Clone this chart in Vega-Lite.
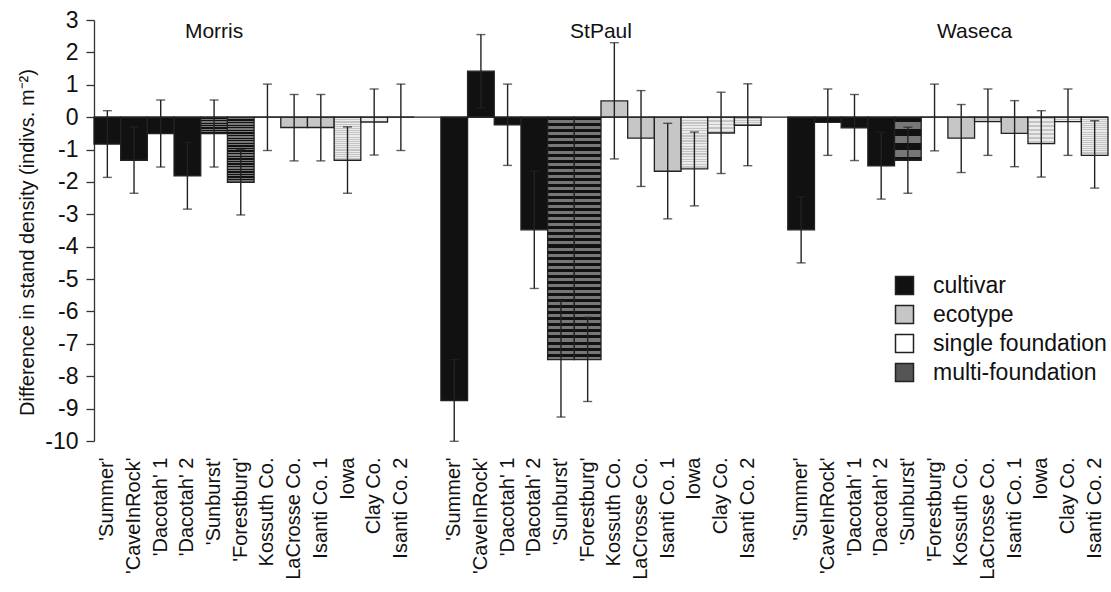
{
  "$schema": "https://vega.github.io/schema/vega-lite/v6.json",
  "width": 1014,
  "height": 421,
  "autosize": {"type": "none"},
  "padding": {"left": 94, "top": 20, "right": 3, "bottom": 151},
  "background": "white",
  "config": {
    "font": "Liberation Sans",
    "view": {"stroke": null},
    "axis": {"grid": false}
  },
  "datasets": {
    "bars": [
      {"site": "Morris", "name": "'Summer'", "type": "cultivar", "value": -0.83, "lo": -1.86, "hi": 0.2},
      {"site": "Morris", "name": "'CaveInRock'", "type": "cultivar", "value": -1.33, "lo": -2.35, "hi": -0.31},
      {"site": "Morris", "name": "'Dacotah' 1", "type": "cultivar", "value": -0.51, "lo": -1.54, "hi": 0.53},
      {"site": "Morris", "name": "'Dacotah' 2", "type": "cultivar", "value": -1.81, "lo": -2.84, "hi": -0.78},
      {"site": "Morris", "name": "'Sunburst'", "type": "multi-foundation", "value": -0.51, "lo": -1.54, "hi": 0.53},
      {"site": "Morris", "name": "'Forestburg'", "type": "multi-foundation", "value": -2.01, "lo": -3.02, "hi": -1.0},
      {"site": "Morris", "name": "Kossuth Co.", "type": "ecotype", "value": 0, "lo": -1.03, "hi": 1.02},
      {"site": "Morris", "name": "LaCrosse Co.", "type": "ecotype", "value": -0.32, "lo": -1.35, "hi": 0.7},
      {"site": "Morris", "name": "Isanti Co. 1", "type": "ecotype", "value": -0.32, "lo": -1.35, "hi": 0.7},
      {"site": "Morris", "name": "Iowa", "type": "single foundation", "value": -1.33, "lo": -2.35, "hi": -0.3},
      {"site": "Morris", "name": "Clay Co.", "type": "single foundation", "value": -0.15, "lo": -1.17, "hi": 0.87},
      {"site": "Morris", "name": "Isanti Co. 2", "type": "single foundation", "value": 0, "lo": -1.03, "hi": 1.02},
      {"site": "StPaul", "name": "'Summer'", "type": "cultivar", "value": -8.75, "lo": -10.01, "hi": -7.49},
      {"site": "StPaul", "name": "'CaveInRock'", "type": "cultivar", "value": 1.42, "lo": 0.29, "hi": 2.55},
      {"site": "StPaul", "name": "'Dacotah' 1", "type": "cultivar", "value": -0.24, "lo": -1.49, "hi": 1.02},
      {"site": "StPaul", "name": "'Dacotah' 2", "type": "cultivar", "value": -3.48, "lo": -5.29, "hi": -1.67},
      {"site": "StPaul", "name": "'Sunburst'", "type": "multi-foundation", "value": -7.49, "lo": -9.26, "hi": -5.67},
      {"site": "StPaul", "name": "'Forestburg'", "type": "multi-foundation", "value": -7.49, "lo": -8.78, "hi": -6.18},
      {"site": "StPaul", "name": "Kossuth Co.", "type": "ecotype", "value": 0.5, "lo": -1.29, "hi": 2.3},
      {"site": "StPaul", "name": "LaCrosse Co.", "type": "ecotype", "value": -0.65, "lo": -2.14, "hi": 0.82},
      {"site": "StPaul", "name": "Isanti Co. 1", "type": "ecotype", "value": -1.67, "lo": -3.14, "hi": -0.19},
      {"site": "StPaul", "name": "Iowa", "type": "single foundation", "value": -1.6, "lo": -2.74, "hi": -0.46},
      {"site": "StPaul", "name": "Clay Co.", "type": "single foundation", "value": -0.49, "lo": -1.74, "hi": 0.77},
      {"site": "StPaul", "name": "Isanti Co. 2", "type": "single foundation", "value": -0.25, "lo": -1.5, "hi": 1.03},
      {"site": "Waseca", "name": "'Summer'", "type": "cultivar", "value": -3.48, "lo": -4.5, "hi": -2.46},
      {"site": "Waseca", "name": "'CaveInRock'", "type": "cultivar", "value": -0.16, "lo": -1.18, "hi": 0.87},
      {"site": "Waseca", "name": "'Dacotah' 1", "type": "cultivar", "value": -0.33, "lo": -1.34, "hi": 0.7},
      {"site": "Waseca", "name": "'Dacotah' 2", "type": "cultivar", "value": -1.5, "lo": -2.53, "hi": -0.47},
      {"site": "Waseca", "name": "'Sunburst'", "type": "multi-foundation", "value": -1.33, "lo": -2.35, "hi": -0.31},
      {"site": "Waseca", "name": "'Forestburg'", "type": "multi-foundation", "value": 0, "lo": -1.04, "hi": 1.02},
      {"site": "Waseca", "name": "Kossuth Co.", "type": "ecotype", "value": -0.65, "lo": -1.71, "hi": 0.39},
      {"site": "Waseca", "name": "LaCrosse Co.", "type": "ecotype", "value": -0.14, "lo": -1.18, "hi": 0.87},
      {"site": "Waseca", "name": "Isanti Co. 1", "type": "ecotype", "value": -0.5, "lo": -1.53, "hi": 0.51},
      {"site": "Waseca", "name": "Iowa", "type": "single foundation", "value": -0.82, "lo": -1.85, "hi": 0.2},
      {"site": "Waseca", "name": "Clay Co.", "type": "single foundation", "value": -0.14, "lo": -1.18, "hi": 0.87},
      {"site": "Waseca", "name": "Isanti Co. 2", "type": "single foundation", "value": -1.18, "lo": -2.19, "hi": -0.11}
    ],
    "sites": [
      {"site": "Morris", "at": "Morris|'Sunburst'"},
      {"site": "StPaul", "at": "StPaul|Kossuth Co."},
      {"site": "Waseca", "at": "Waseca|LaCrosse Co."}
    ]
  },
  "data": {"name": "bars"},
  "transform": [{"calculate": "datum.site + '|' + datum.name", "as": "key"}],
  "layer": [
    {
      "mark": {"type": "bar", "stroke": "#222", "strokeWidth": 1.3},
      "encoding": {
        "x": {
          "field": "key",
          "type": "nominal",
          "sort": null,
          "scale": {
            "type": "band",
            "paddingInner": 0,
            "paddingOuter": 0,
            "domain": [
              "Morris|'Summer'", "Morris|'CaveInRock'", "Morris|'Dacotah' 1", "Morris|'Dacotah' 2", "Morris|'Sunburst'", "Morris|'Forestburg'",
              "Morris|Kossuth Co.", "Morris|LaCrosse Co.", "Morris|Isanti Co. 1", "Morris|Iowa", "Morris|Clay Co.", "Morris|Isanti Co. 2",
              "gap1",
              "StPaul|'Summer'", "StPaul|'CaveInRock'", "StPaul|'Dacotah' 1", "StPaul|'Dacotah' 2", "StPaul|'Sunburst'", "StPaul|'Forestburg'",
              "StPaul|Kossuth Co.", "StPaul|LaCrosse Co.", "StPaul|Isanti Co. 1", "StPaul|Iowa", "StPaul|Clay Co.", "StPaul|Isanti Co. 2",
              "gap2",
              "Waseca|'Summer'", "Waseca|'CaveInRock'", "Waseca|'Dacotah' 1", "Waseca|'Dacotah' 2", "Waseca|'Sunburst'", "Waseca|'Forestburg'",
              "Waseca|Kossuth Co.", "Waseca|LaCrosse Co.", "Waseca|Isanti Co. 1", "Waseca|Iowa", "Waseca|Clay Co.", "Waseca|Isanti Co. 2"
            ]
          },
          "axis": {
            "title": null,
            "domain": false,
            "ticks": false,
            "labelAngle": 270,
            "labelAlign": "right",
            "labelBaseline": "middle",
            "labelPadding": 16,
            "labelFontSize": 20,
            "labelColor": "#111",
            "labelOverlap": false,
            "labelLimit": 300,
            "labelExpr": "indexof(datum.value, '|') > 0 ? slice(datum.value, indexof(datum.value, '|') + 1) : ''"
          }
        },
        "y": {
          "field": "value",
          "type": "quantitative",
          "scale": {"domain": [-10, 3], "nice": false, "zero": false},
          "axis": {
            "values": [-10, -9, -8, -7, -6, -5, -4, -3, -2, -1, 0, 1, 2, 3],
            "tickCount": 20,
            "labelExpr": "'' + datum.value",
            "labelOverlap": false,
            "labelFlush": false,
            "labelFontSize": 23,
            "labelColor": "#111",
            "labelPadding": 8,
            "tickSize": 8,
            "tickColor": "#333",
            "tickWidth": 1.3,
            "domainColor": "#333",
            "domainWidth": 1.3,
            "title": "Difference in stand density (indivs. m⁻²)",
            "titleFontSize": 20,
            "titleFontWeight": "normal",
            "titleColor": "#111",
            "titleAngle": 270,
            "titleAlign": "center",
            "titleBaseline": "alphabetic",
            "titleX": -61,
            "titleY": 222
          }
        },
        "fill": {
          "condition": [
            {
              "test": "datum.type === 'multi-foundation'",
              "value": {
                "gradient": "linear", "x1": 0, "y1": 0, "x2": 0, "y2": 1,
                "stops": [
                  {"offset": 0, "color": "#111"}, {"offset": 0.0125, "color": "#111"}, {"offset": 0.0125, "color": "#777"}, {"offset": 0.025, "color": "#777"},
                  {"offset": 0.025, "color": "#111"}, {"offset": 0.0375, "color": "#111"}, {"offset": 0.0375, "color": "#777"}, {"offset": 0.05, "color": "#777"},
                  {"offset": 0.05, "color": "#111"}, {"offset": 0.0625, "color": "#111"}, {"offset": 0.0625, "color": "#777"}, {"offset": 0.075, "color": "#777"},
                  {"offset": 0.075, "color": "#111"}, {"offset": 0.0875, "color": "#111"}, {"offset": 0.0875, "color": "#777"}, {"offset": 0.1, "color": "#777"},
                  {"offset": 0.1, "color": "#111"}, {"offset": 0.1125, "color": "#111"}, {"offset": 0.1125, "color": "#777"}, {"offset": 0.125, "color": "#777"},
                  {"offset": 0.125, "color": "#111"}, {"offset": 0.1375, "color": "#111"}, {"offset": 0.1375, "color": "#777"}, {"offset": 0.15, "color": "#777"},
                  {"offset": 0.15, "color": "#111"}, {"offset": 0.1625, "color": "#111"}, {"offset": 0.1625, "color": "#777"}, {"offset": 0.175, "color": "#777"},
                  {"offset": 0.175, "color": "#111"}, {"offset": 0.1875, "color": "#111"}, {"offset": 0.1875, "color": "#777"}, {"offset": 0.2, "color": "#777"},
                  {"offset": 0.2, "color": "#111"}, {"offset": 0.2125, "color": "#111"}, {"offset": 0.2125, "color": "#777"}, {"offset": 0.225, "color": "#777"},
                  {"offset": 0.225, "color": "#111"}, {"offset": 0.2375, "color": "#111"}, {"offset": 0.2375, "color": "#777"}, {"offset": 0.25, "color": "#777"},
                  {"offset": 0.25, "color": "#111"}, {"offset": 0.2625, "color": "#111"}, {"offset": 0.2625, "color": "#777"}, {"offset": 0.275, "color": "#777"},
                  {"offset": 0.275, "color": "#111"}, {"offset": 0.2875, "color": "#111"}, {"offset": 0.2875, "color": "#777"}, {"offset": 0.3, "color": "#777"},
                  {"offset": 0.3, "color": "#111"}, {"offset": 0.3125, "color": "#111"}, {"offset": 0.3125, "color": "#777"}, {"offset": 0.325, "color": "#777"},
                  {"offset": 0.325, "color": "#111"}, {"offset": 0.3375, "color": "#111"}, {"offset": 0.3375, "color": "#777"}, {"offset": 0.35, "color": "#777"},
                  {"offset": 0.35, "color": "#111"}, {"offset": 0.3625, "color": "#111"}, {"offset": 0.3625, "color": "#777"}, {"offset": 0.375, "color": "#777"},
                  {"offset": 0.375, "color": "#111"}, {"offset": 0.3875, "color": "#111"}, {"offset": 0.3875, "color": "#777"}, {"offset": 0.4, "color": "#777"},
                  {"offset": 0.4, "color": "#111"}, {"offset": 0.4125, "color": "#111"}, {"offset": 0.4125, "color": "#777"}, {"offset": 0.425, "color": "#777"},
                  {"offset": 0.425, "color": "#111"}, {"offset": 0.4375, "color": "#111"}, {"offset": 0.4375, "color": "#777"}, {"offset": 0.45, "color": "#777"},
                  {"offset": 0.45, "color": "#111"}, {"offset": 0.4625, "color": "#111"}, {"offset": 0.4625, "color": "#777"}, {"offset": 0.475, "color": "#777"},
                  {"offset": 0.475, "color": "#111"}, {"offset": 0.4875, "color": "#111"}, {"offset": 0.4875, "color": "#777"}, {"offset": 0.5, "color": "#777"},
                  {"offset": 0.5, "color": "#111"}, {"offset": 0.5125, "color": "#111"}, {"offset": 0.5125, "color": "#777"}, {"offset": 0.525, "color": "#777"},
                  {"offset": 0.525, "color": "#111"}, {"offset": 0.5375, "color": "#111"}, {"offset": 0.5375, "color": "#777"}, {"offset": 0.55, "color": "#777"},
                  {"offset": 0.55, "color": "#111"}, {"offset": 0.5625, "color": "#111"}, {"offset": 0.5625, "color": "#777"}, {"offset": 0.575, "color": "#777"},
                  {"offset": 0.575, "color": "#111"}, {"offset": 0.5875, "color": "#111"}, {"offset": 0.5875, "color": "#777"}, {"offset": 0.6, "color": "#777"},
                  {"offset": 0.6, "color": "#111"}, {"offset": 0.6125, "color": "#111"}, {"offset": 0.6125, "color": "#777"}, {"offset": 0.625, "color": "#777"},
                  {"offset": 0.625, "color": "#111"}, {"offset": 0.6375, "color": "#111"}, {"offset": 0.6375, "color": "#777"}, {"offset": 0.65, "color": "#777"},
                  {"offset": 0.65, "color": "#111"}, {"offset": 0.6625, "color": "#111"}, {"offset": 0.6625, "color": "#777"}, {"offset": 0.675, "color": "#777"},
                  {"offset": 0.675, "color": "#111"}, {"offset": 0.6875, "color": "#111"}, {"offset": 0.6875, "color": "#777"}, {"offset": 0.7, "color": "#777"},
                  {"offset": 0.7, "color": "#111"}, {"offset": 0.7125, "color": "#111"}, {"offset": 0.7125, "color": "#777"}, {"offset": 0.725, "color": "#777"},
                  {"offset": 0.725, "color": "#111"}, {"offset": 0.7375, "color": "#111"}, {"offset": 0.7375, "color": "#777"}, {"offset": 0.75, "color": "#777"},
                  {"offset": 0.75, "color": "#111"}, {"offset": 0.7625, "color": "#111"}, {"offset": 0.7625, "color": "#777"}, {"offset": 0.775, "color": "#777"},
                  {"offset": 0.775, "color": "#111"}, {"offset": 0.7875, "color": "#111"}, {"offset": 0.7875, "color": "#777"}, {"offset": 0.8, "color": "#777"},
                  {"offset": 0.8, "color": "#111"}, {"offset": 0.8125, "color": "#111"}, {"offset": 0.8125, "color": "#777"}, {"offset": 0.825, "color": "#777"},
                  {"offset": 0.825, "color": "#111"}, {"offset": 0.8375, "color": "#111"}, {"offset": 0.8375, "color": "#777"}, {"offset": 0.85, "color": "#777"},
                  {"offset": 0.85, "color": "#111"}, {"offset": 0.8625, "color": "#111"}, {"offset": 0.8625, "color": "#777"}, {"offset": 0.875, "color": "#777"},
                  {"offset": 0.875, "color": "#111"}, {"offset": 0.8875, "color": "#111"}, {"offset": 0.8875, "color": "#777"}, {"offset": 0.9, "color": "#777"},
                  {"offset": 0.9, "color": "#111"}, {"offset": 0.9125, "color": "#111"}, {"offset": 0.9125, "color": "#777"}, {"offset": 0.925, "color": "#777"},
                  {"offset": 0.925, "color": "#111"}, {"offset": 0.9375, "color": "#111"}, {"offset": 0.9375, "color": "#777"}, {"offset": 0.95, "color": "#777"},
                  {"offset": 0.95, "color": "#111"}, {"offset": 0.9625, "color": "#111"}, {"offset": 0.9625, "color": "#777"}, {"offset": 0.975, "color": "#777"},
                  {"offset": 0.975, "color": "#111"}, {"offset": 0.9875, "color": "#111"}, {"offset": 0.9875, "color": "#777"}, {"offset": 1, "color": "#777"}
                ]
              }
            },
            {
              "test": "datum.type === 'single foundation'",
              "value": {
                "gradient": "linear", "x1": 0, "y1": 0, "x2": 0, "y2": 1,
                "stops": [
                  {"offset": 0, "color": "#c4c4c4"}, {"offset": 0.025, "color": "#c4c4c4"}, {"offset": 0.025, "color": "#ebebeb"}, {"offset": 0.05, "color": "#ebebeb"},
                  {"offset": 0.05, "color": "#c4c4c4"}, {"offset": 0.075, "color": "#c4c4c4"}, {"offset": 0.075, "color": "#ebebeb"}, {"offset": 0.1, "color": "#ebebeb"},
                  {"offset": 0.1, "color": "#c4c4c4"}, {"offset": 0.125, "color": "#c4c4c4"}, {"offset": 0.125, "color": "#ebebeb"}, {"offset": 0.15, "color": "#ebebeb"},
                  {"offset": 0.15, "color": "#c4c4c4"}, {"offset": 0.175, "color": "#c4c4c4"}, {"offset": 0.175, "color": "#ebebeb"}, {"offset": 0.2, "color": "#ebebeb"},
                  {"offset": 0.2, "color": "#c4c4c4"}, {"offset": 0.225, "color": "#c4c4c4"}, {"offset": 0.225, "color": "#ebebeb"}, {"offset": 0.25, "color": "#ebebeb"},
                  {"offset": 0.25, "color": "#c4c4c4"}, {"offset": 0.275, "color": "#c4c4c4"}, {"offset": 0.275, "color": "#ebebeb"}, {"offset": 0.3, "color": "#ebebeb"},
                  {"offset": 0.3, "color": "#c4c4c4"}, {"offset": 0.325, "color": "#c4c4c4"}, {"offset": 0.325, "color": "#ebebeb"}, {"offset": 0.35, "color": "#ebebeb"},
                  {"offset": 0.35, "color": "#c4c4c4"}, {"offset": 0.375, "color": "#c4c4c4"}, {"offset": 0.375, "color": "#ebebeb"}, {"offset": 0.4, "color": "#ebebeb"},
                  {"offset": 0.4, "color": "#c4c4c4"}, {"offset": 0.425, "color": "#c4c4c4"}, {"offset": 0.425, "color": "#ebebeb"}, {"offset": 0.45, "color": "#ebebeb"},
                  {"offset": 0.45, "color": "#c4c4c4"}, {"offset": 0.475, "color": "#c4c4c4"}, {"offset": 0.475, "color": "#ebebeb"}, {"offset": 0.5, "color": "#ebebeb"},
                  {"offset": 0.5, "color": "#c4c4c4"}, {"offset": 0.525, "color": "#c4c4c4"}, {"offset": 0.525, "color": "#ebebeb"}, {"offset": 0.55, "color": "#ebebeb"},
                  {"offset": 0.55, "color": "#c4c4c4"}, {"offset": 0.575, "color": "#c4c4c4"}, {"offset": 0.575, "color": "#ebebeb"}, {"offset": 0.6, "color": "#ebebeb"},
                  {"offset": 0.6, "color": "#c4c4c4"}, {"offset": 0.625, "color": "#c4c4c4"}, {"offset": 0.625, "color": "#ebebeb"}, {"offset": 0.65, "color": "#ebebeb"},
                  {"offset": 0.65, "color": "#c4c4c4"}, {"offset": 0.675, "color": "#c4c4c4"}, {"offset": 0.675, "color": "#ebebeb"}, {"offset": 0.7, "color": "#ebebeb"},
                  {"offset": 0.7, "color": "#c4c4c4"}, {"offset": 0.725, "color": "#c4c4c4"}, {"offset": 0.725, "color": "#ebebeb"}, {"offset": 0.75, "color": "#ebebeb"},
                  {"offset": 0.75, "color": "#c4c4c4"}, {"offset": 0.775, "color": "#c4c4c4"}, {"offset": 0.775, "color": "#ebebeb"}, {"offset": 0.8, "color": "#ebebeb"},
                  {"offset": 0.8, "color": "#c4c4c4"}, {"offset": 0.825, "color": "#c4c4c4"}, {"offset": 0.825, "color": "#ebebeb"}, {"offset": 0.85, "color": "#ebebeb"},
                  {"offset": 0.85, "color": "#c4c4c4"}, {"offset": 0.875, "color": "#c4c4c4"}, {"offset": 0.875, "color": "#ebebeb"}, {"offset": 0.9, "color": "#ebebeb"},
                  {"offset": 0.9, "color": "#c4c4c4"}, {"offset": 0.925, "color": "#c4c4c4"}, {"offset": 0.925, "color": "#ebebeb"}, {"offset": 0.95, "color": "#ebebeb"},
                  {"offset": 0.95, "color": "#c4c4c4"}, {"offset": 0.975, "color": "#c4c4c4"}, {"offset": 0.975, "color": "#ebebeb"}, {"offset": 1, "color": "#ebebeb"}
                ]
              }
            }
          ],
          "field": "type",
          "type": "nominal",
          "scale": {
            "domain": ["cultivar", "ecotype", "single foundation", "multi-foundation"],
            "range": ["#111111", "#c6c6c6", "#ffffff", "#555555"]
          },
          "legend": {
            "title": null,
            "orient": "none",
            "legendX": 799,
            "legendY": 254,
            "symbolType": "square",
            "symbolSize": 324,
            "labelFontSize": 23,
            "labelColor": "#111",
            "labelOffset": 17,
            "labelLimit": 300,
            "rowPadding": 4,
            "encode": {
              "symbols": {
                "update": {
                  "stroke": {"value": "#333"},
                  "strokeWidth": {"value": 1.3}
                }
              }
            }
          }
        }
      }
    },
    {
      "data": {"values": [{}]},
      "transform": [],
      "mark": {"type": "rule", "color": "#222", "strokeWidth": 1.3},
      "encoding": {"y": {"datum": 0, "type": "quantitative"}}
    },
    {
      "mark": {"type": "rule", "color": "#222", "strokeWidth": 1.4},
      "encoding": {
        "x": {"field": "key", "type": "nominal"},
        "y": {"field": "lo", "type": "quantitative"},
        "y2": {"field": "hi"}
      }
    },
    {
      "mark": {"type": "tick", "orient": "horizontal", "color": "#222", "size": 9, "thickness": 1.4},
      "encoding": {
        "x": {"field": "key", "type": "nominal"},
        "y": {"field": "lo", "type": "quantitative"}
      }
    },
    {
      "mark": {"type": "tick", "orient": "horizontal", "color": "#222", "size": 9, "thickness": 1.4},
      "encoding": {
        "x": {"field": "key", "type": "nominal"},
        "y": {"field": "hi", "type": "quantitative"}
      }
    },
    {
      "data": {"name": "sites"},
      "transform": [{"filter": "datum.site === 'Morris'"}],
      "mark": {"type": "text", "fontSize": 21, "color": "#111", "align": "center", "baseline": "middle"},
      "encoding": {
        "x": {"field": "at", "type": "nominal", "bandPosition": 0.5},
        "y": {"datum": 2.62, "type": "quantitative"},
        "text": {"field": "site"}
      }
    },
    {
      "data": {"name": "sites"},
      "transform": [{"filter": "datum.site !== 'Morris'"}],
      "mark": {"type": "text", "fontSize": 21, "color": "#111", "align": "center", "baseline": "middle"},
      "encoding": {
        "x": {"field": "at", "type": "nominal", "bandPosition": 0},
        "y": {"datum": 2.62, "type": "quantitative"},
        "text": {"field": "site"}
      }
    }
  ]
}
